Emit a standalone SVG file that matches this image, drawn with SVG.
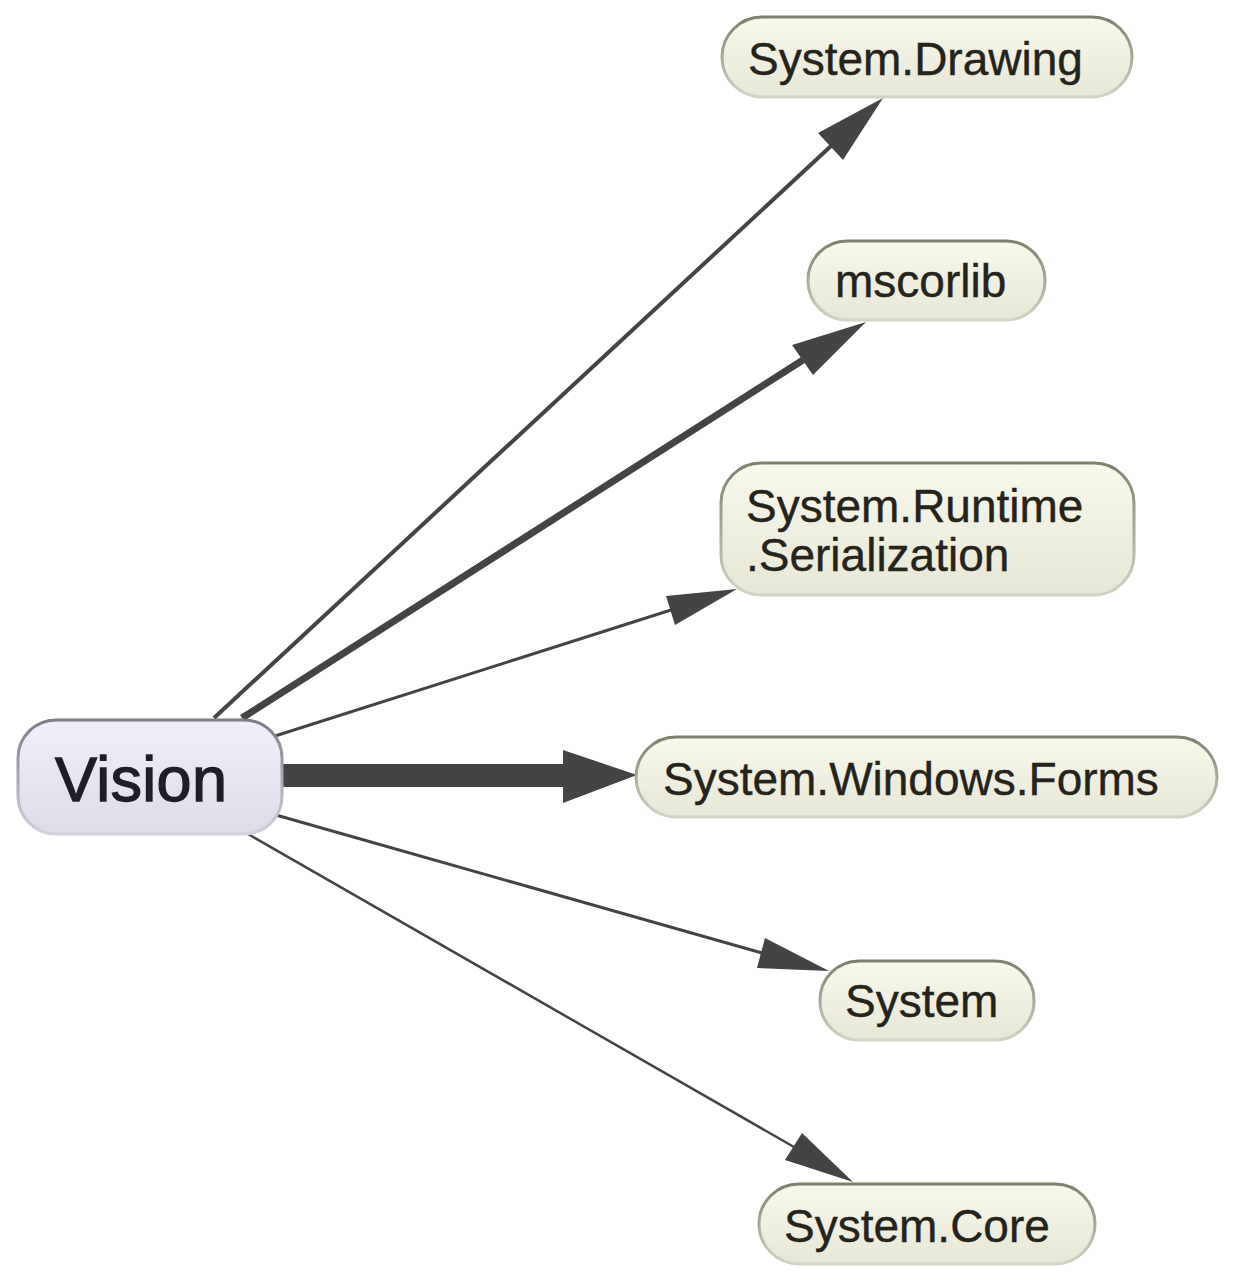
<svg xmlns="http://www.w3.org/2000/svg" width="1234" height="1280" viewBox="0 0 1234 1280">
<defs>
<linearGradient id="gT" x1="0" y1="0" x2="0" y2="1">
<stop offset="0" stop-color="#f8f8ec"/>
<stop offset="1" stop-color="#e7e7d7"/>
</linearGradient>
<linearGradient id="sT" x1="0" y1="0" x2="0" y2="1">
<stop offset="0" stop-color="#7f7f6e"/>
<stop offset="1" stop-color="#d4d4c4"/>
</linearGradient>
<linearGradient id="gV" x1="0" y1="0" x2="0" y2="1">
<stop offset="0" stop-color="#f0f0fa"/>
<stop offset="1" stop-color="#dcdce8"/>
</linearGradient>
<linearGradient id="sV" x1="0" y1="0" x2="0" y2="1">
<stop offset="0" stop-color="#7c7c86"/>
<stop offset="1" stop-color="#d2d2de"/>
</linearGradient>
</defs>
<style>
.t rect{fill:url(#gT);stroke:url(#sT);stroke-width:3}
.v rect{fill:url(#gV);stroke:url(#sV);stroke-width:3}
text{font-family:"Liberation Sans",Arial,sans-serif}
.t text{font-size:46px;fill:#25231a;stroke:#25231a;stroke-width:0.4}
.v text{font-size:63px;fill:#1e1e28;stroke:#1e1e28;stroke-width:1.3}
.e line{stroke:#444444;stroke-linecap:butt}
.e polygon{fill:#444444}
</style>
<rect width="1234" height="1280" fill="#ffffff"/>
<g id="connectors" class="e">
<line x1="214" y1="718" x2="831" y2="146" stroke-width="4"/>
<polygon points="883,98 818,133 843,160"/>
<line x1="242" y1="718" x2="803" y2="360" stroke-width="7"/>
<polygon points="866,322 792,345 813,375"/>
<line x1="275" y1="736" x2="671" y2="610" stroke-width="3"/>
<polygon points="737,589 666,596 675,625"/>
<rect x="283" y="764" width="282" height="23" fill="#444444"/>
<polygon points="637,775 563,750 563,803"/>
<line x1="276" y1="815" x2="762" y2="953" stroke-width="3"/>
<polygon points="829,971 765,938 757,968"/>
<line x1="248" y1="834" x2="794" y2="1147" stroke-width="2.5"/>
<polygon points="853,1182 802,1133 785,1160"/>
</g>
<g id="node-vision" class="v">
<rect x="18" y="720" width="264" height="114" rx="38" ry="38"/>
<text x="55" y="801" textLength="172">Vision</text>
</g>
<g id="node-system-drawing" class="t">
<rect x="722" y="17" width="410" height="80" rx="40" ry="40"/>
<text x="748" y="75">System.Drawing</text>
</g>
<g id="node-mscorlib" class="t">
<rect x="808" y="241" width="237" height="79" rx="39" ry="39"/>
<text x="835" y="297">mscorlib</text>
</g>
<g id="node-system-runtime-serialization" class="t">
<rect x="721" y="463" width="413" height="132" rx="40" ry="40"/>
<text x="746" y="522">System.Runtime</text>
<text x="746" y="571">.Serialization</text>
</g>
<g id="node-system-windows-forms" class="t">
<rect x="636" y="737" width="581" height="80" rx="40" ry="40"/>
<text x="663" y="795">System.Windows.Forms</text>
</g>
<g id="node-system" class="t">
<rect x="820" y="961" width="214" height="79" rx="39" ry="39"/>
<text x="845" y="1017">System</text>
</g>
<g id="node-system-core" class="t">
<rect x="759" y="1184" width="336" height="80" rx="40" ry="40"/>
<text x="784" y="1242">System.Core</text>
</g>
</svg>
